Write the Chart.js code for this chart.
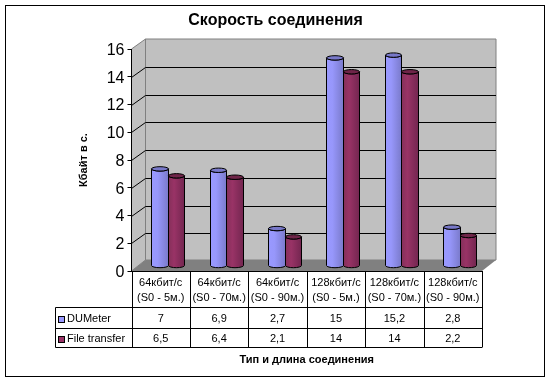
<!DOCTYPE html>
<html><head><meta charset="utf-8">
<style>html,body{margin:0;padding:0;background:#fff}canvas{display:block}</style>
<script src="https://cdn.jsdelivr.net/npm/chart.js@4/dist/chart.umd.min.js"></script>
</head><body><canvas id="c" width="550" height="381"></canvas>
<script>
const categories = [["64кбит/с","(S0 - 5м.)"],["64кбит/с","(S0 - 70м.)"],["64кбит/с","(S0 - 90м.)"],["128кбит/с","(S0 - 5м.)"],["128кбит/с","(S0 - 70м.)"],["128кбит/с","(S0 - 90м.)"]];
const duMeter = [7, 6.9, 2.7, 15, 15.2, 2.8];
const fileTransfer = [6.5, 6.4, 2.1, 14, 14, 2.2];
const FONT = '"Liberation Sans", Arial, sans-serif';
const DX = 14, DY = -10, BDX = 7, BDY = -5;
const palette = [
  {l:'#9999ff', m:'#9797fb', r:'#7a7acb', top:'#7878c8'},
  {l:'#85305a', m:'#993366', r:'#732650', top:'#6f2549'}
];
const snap = v => Math.round(v) + .5;
function cyl(ctx, xa, xb, yTop, yBase, p){
  const x0=snap(xa), x1=snap(xb);
  const cx=(x0+x1)/2, rx=(x1-x0)/2, ry=2.2;
  const g=ctx.createLinearGradient(x0,0,x1,0);
  g.addColorStop(0,p.l);g.addColorStop(.35,p.m);g.addColorStop(1,p.r);
  ctx.beginPath();
  ctx.moveTo(x0,yTop);ctx.lineTo(x0,yBase);
  ctx.ellipse(cx,yBase,rx,ry,0,Math.PI,0,true);
  ctx.lineTo(x1,yTop);
  ctx.ellipse(cx,yTop,rx,ry,0,0,Math.PI,false);
  ctx.closePath();ctx.fillStyle=g;ctx.fill();
  ctx.strokeStyle='#000';ctx.lineWidth=1;ctx.stroke();
  ctx.beginPath();ctx.ellipse(cx,yTop,rx,ry,0,0,Math.PI*2);
  ctx.fillStyle=p.top;ctx.fill();ctx.stroke();
}
let labelsShifted=false;
const scene3d = {
  id:'scene3d',
  beforeDraw(chart){
    const {ctx,scales:{x,y}}=chart;
    const L=x.left,R=x.right,T=y.top,B=y.bottom;
    if(!labelsShifted){
      y.getLabelItems(chart.chartArea).forEach(it=>{it.options.translation[1]+=1.5;});
      labelsShifted=true;
    }
    ctx.save();
    ctx.fillStyle='#fff';ctx.fillRect(0,0,550,381);
    ctx.strokeStyle='#000';ctx.lineWidth=1;ctx.strokeRect(5.5,5.5,539,371);
    ctx.fillStyle='#c0c0c0';ctx.strokeStyle='#808080';
    ctx.beginPath();ctx.moveTo(L,T);ctx.lineTo(L+DX,T+DY);ctx.lineTo(L+DX,B+DY-1);ctx.lineTo(L,B);ctx.closePath();ctx.fill();ctx.stroke();
    ctx.beginPath();ctx.rect(L+DX,T+DY,R-L,B-T-1);ctx.fill();ctx.stroke();
    ctx.fillStyle='#808080';
    ctx.beginPath();ctx.moveTo(L,B);ctx.lineTo(L+DX,B+DY-1);ctx.lineTo(R+DX,B+DY-1);ctx.lineTo(R,B);ctx.closePath();ctx.fill();
    ctx.strokeStyle='#000';
    y.ticks.forEach(t=>{
      if(t.value===0||t.value===y.max)return;
      const py=snap(y.getPixelForValue(t.value));
      ctx.beginPath();ctx.moveTo(L,py);ctx.lineTo(L+DX,py+DY);ctx.lineTo(R+DX,py+DY);ctx.stroke();
    });
    ctx.restore();
  },
  beforeDatasetsDraw(chart){
    const {ctx}=chart;
    ctx.save();
    chart.data.datasets.forEach((ds,i)=>{
      chart.getDatasetMeta(i).data.forEach(el=>{
        const w=el.width;
        cyl(ctx,el.x-w/2+BDX,el.x+w/2+BDX,el.y+BDY,el.base+BDY,palette[i]);
      });
    });
    ctx.restore();
    return false;
  },
  afterDraw(chart){
    const {ctx,scales:{x,y}}=chart;
    const B=y.bottom,L=x.left,R=x.right,step=(R-L)/categories.length;
    const rows=[B+36,B+57,B+76], tl=55.5;
    ctx.save();
    ctx.strokeStyle='#000';ctx.lineWidth=1;
    ctx.beginPath();
    ctx.moveTo(L,B+.5);ctx.lineTo(R,B+.5);
    rows.forEach(r=>{ctx.moveTo(tl,snap(r));ctx.lineTo(R,snap(r));});
    ctx.moveTo(tl,snap(rows[0]));ctx.lineTo(tl,snap(rows[2]));
    for(let i=0;i<=categories.length;i++){const px=snap(L+i*step);ctx.moveTo(px,B);ctx.lineTo(px,snap(rows[2]));}
    ctx.stroke();
    ctx.font='11px '+FONT;ctx.textBaseline='middle';
    chart.data.datasets.forEach((ds,i)=>{
      const cy=(rows[i]+rows[i+1])/2+1.5;
      const sy=Math.round(cy-3.5)+.5;
      ctx.fillStyle=ds.backgroundColor;ctx.fillRect(58.5,sy,6,6);
      ctx.strokeRect(58.5,sy,6,6);
      ctx.fillStyle='#000';ctx.textAlign='left';
      ctx.fillText(ds.label,67,cy);
      ctx.textAlign='center';
      ds.data.forEach((v,j)=>ctx.fillText(String(v).replace('.',','),x.getPixelForValue(j),cy));
    });
    ctx.restore();
  }
};
new Chart(document.getElementById('c'),{
  type:'bar',
  data:{labels:categories,datasets:[
    {label:'DUMeter',data:duMeter,backgroundColor:'#9999ff',borderColor:'#000',borderWidth:1},
    {label:'File transfer',data:fileTransfer,backgroundColor:'#993366',borderColor:'#000',borderWidth:1}
  ]},
  options:{
    responsive:false,animation:false,
    layout:{padding:{left:69,right:68,top:6,bottom:14}},
    categoryPercentage:.565,barPercentage:1,
    plugins:{
      legend:{display:false},tooltip:{enabled:false},
      title:{display:true,text:'Скорость соединения',color:'#000',font:{family:FONT,size:16,weight:'bold'},padding:{top:5,bottom:18.8}}
    },
    scales:{
      x:{
        grid:{display:false},border:{display:false},
        ticks:{autoSkip:false,maxRotation:0,minRotation:0,color:'#000',font:{family:FONT,size:11,lineHeight:1.4},padding:-4},
        title:{display:true,text:'Тип и длина соединения',color:'#000',font:{family:FONT,size:11,weight:'bold'},padding:{top:46,bottom:0}},
        afterFit(s){s.height=96;}
      },
      y:{
        min:0,max:16,
        grid:{drawOnChartArea:false,drawTicks:true,tickLength:4,color:'#000'},
        border:{display:true,color:'#000'},
        ticks:{stepSize:2,color:'#000',font:{family:FONT,size:16},padding:3},
        title:{display:true,text:'Кбайт в с.',color:'#000',font:{family:FONT,size:11,weight:'bold'},padding:{top:8,bottom:10}},
        afterFit(s){s.width=62.5;}
      }
    }
  },
  plugins:[scene3d]
});
</script></body></html>
